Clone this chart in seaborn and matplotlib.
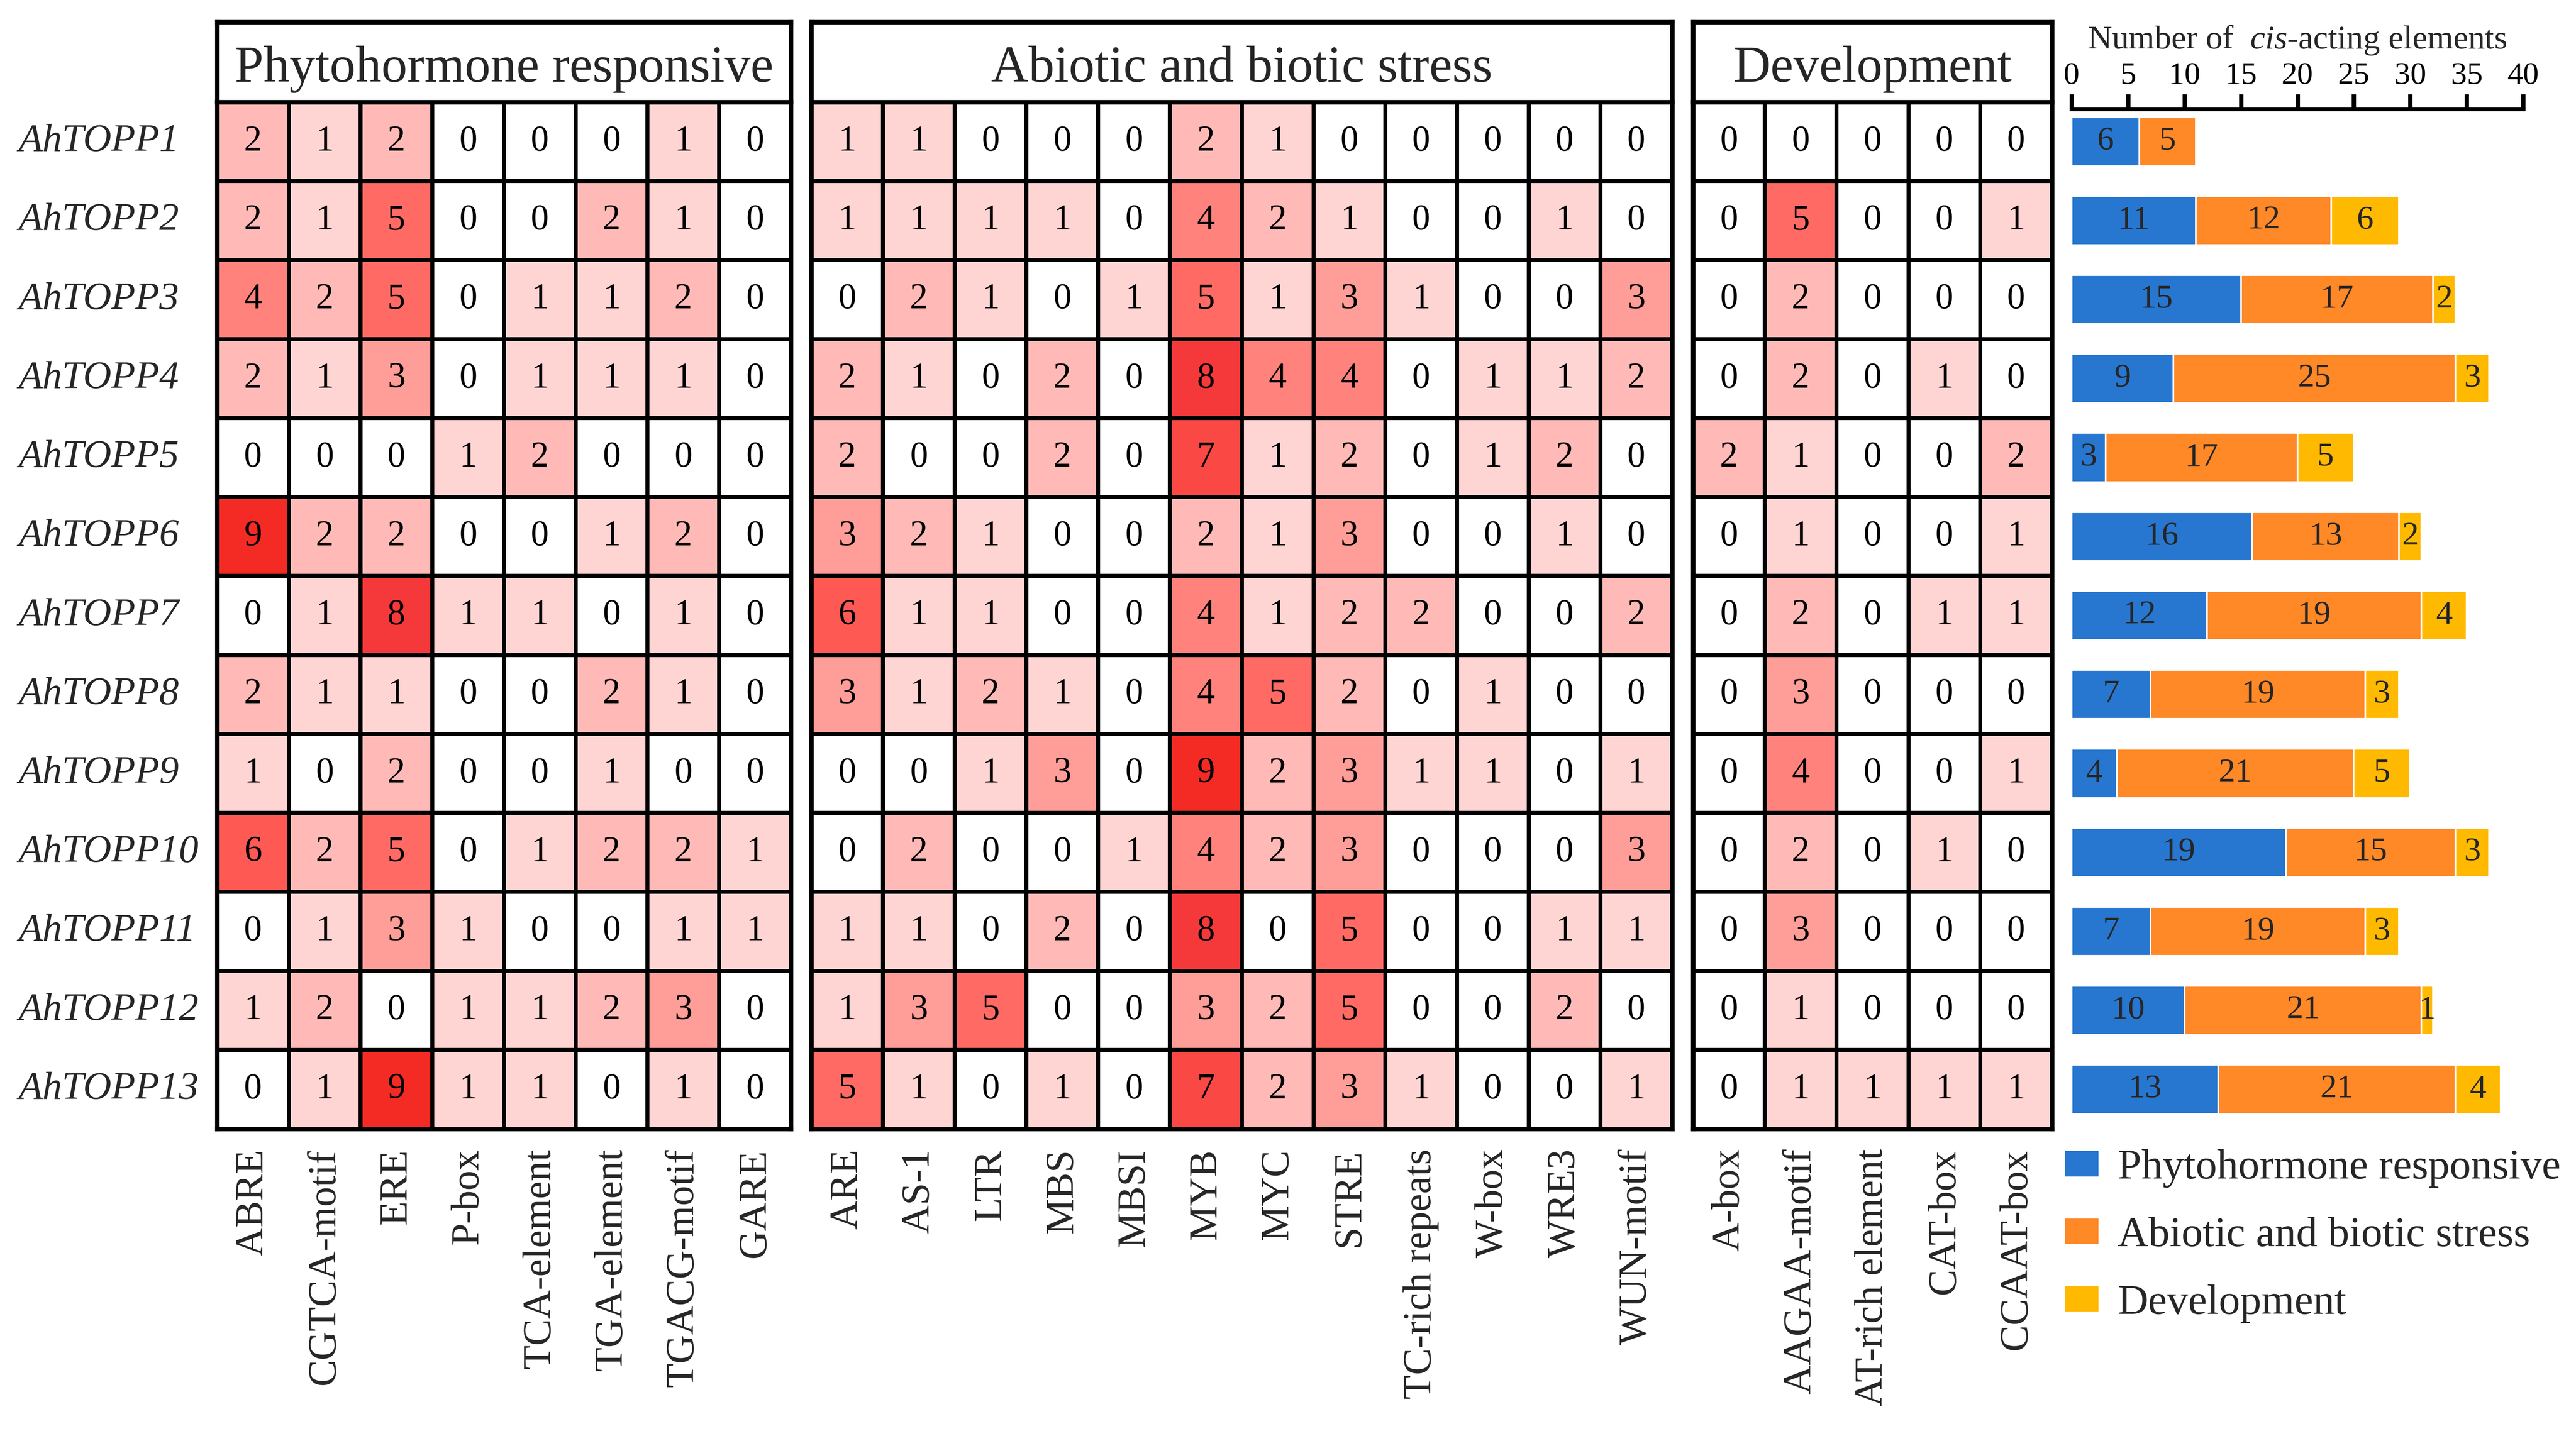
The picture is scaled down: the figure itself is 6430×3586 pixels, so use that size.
import numpy as np
import pandas as pd
import matplotlib
matplotlib.use("Agg")
import matplotlib.pyplot as plt
import seaborn as sns
from matplotlib.colors import LinearSegmentedColormap
from matplotlib.patches import Patch

# --- data ---
genes = ["AhTOPP1", "AhTOPP2", "AhTOPP3", "AhTOPP4", "AhTOPP5", "AhTOPP6", "AhTOPP7",
         "AhTOPP8", "AhTOPP9", "AhTOPP10", "AhTOPP11", "AhTOPP12", "AhTOPP13"]

phyto_cols = ["ABRE", "CGTCA-motif", "ERE", "P-box", "TCA-element", "TGA-element",
              "TGACG-motif", "GARE"]
phyto = [
    [2, 1, 2, 0, 0, 0, 1, 0],
    [2, 1, 5, 0, 0, 2, 1, 0],
    [4, 2, 5, 0, 1, 1, 2, 0],
    [2, 1, 3, 0, 1, 1, 1, 0],
    [0, 0, 0, 1, 2, 0, 0, 0],
    [9, 2, 2, 0, 0, 1, 2, 0],
    [0, 1, 8, 1, 1, 0, 1, 0],
    [2, 1, 1, 0, 0, 2, 1, 0],
    [1, 0, 2, 0, 0, 1, 0, 0],
    [6, 2, 5, 0, 1, 2, 2, 1],
    [0, 1, 3, 1, 0, 0, 1, 1],
    [1, 2, 0, 1, 1, 2, 3, 0],
    [0, 1, 9, 1, 1, 0, 1, 0],
]

stress_cols = ["ARE", "AS-1", "LTR", "MBS", "MBSI", "MYB", "MYC", "STRE",
               "TC-rich repeats", "W-box", "WRE3", "WUN-motif"]
stress = [
    [1, 1, 0, 0, 0, 2, 1, 0, 0, 0, 0, 0],
    [1, 1, 1, 1, 0, 4, 2, 1, 0, 0, 1, 0],
    [0, 2, 1, 0, 1, 5, 1, 3, 1, 0, 0, 3],
    [2, 1, 0, 2, 0, 8, 4, 4, 0, 1, 1, 2],
    [2, 0, 0, 2, 0, 7, 1, 2, 0, 1, 2, 0],
    [3, 2, 1, 0, 0, 2, 1, 3, 0, 0, 1, 0],
    [6, 1, 1, 0, 0, 4, 1, 2, 2, 0, 0, 2],
    [3, 1, 2, 1, 0, 4, 5, 2, 0, 1, 0, 0],
    [0, 0, 1, 3, 0, 9, 2, 3, 1, 1, 0, 1],
    [0, 2, 0, 0, 1, 4, 2, 3, 0, 0, 0, 3],
    [1, 1, 0, 2, 0, 8, 0, 5, 0, 0, 1, 1],
    [1, 3, 5, 0, 0, 3, 2, 5, 0, 0, 2, 0],
    [5, 1, 0, 1, 0, 7, 2, 3, 1, 0, 0, 1],
]

dev_cols = ["A-box", "AAGAA-motif", "AT-rich element", "CAT-box", "CCAAT-box"]
dev = [
    [0, 0, 0, 0, 0],
    [0, 5, 0, 0, 1],
    [0, 2, 0, 0, 0],
    [0, 2, 0, 1, 0],
    [2, 1, 0, 0, 2],
    [0, 1, 0, 0, 1],
    [0, 2, 0, 1, 1],
    [0, 3, 0, 0, 0],
    [0, 4, 0, 0, 1],
    [0, 2, 0, 1, 0],
    [0, 3, 0, 0, 0],
    [0, 1, 0, 0, 0],
    [0, 1, 1, 1, 1],
]

group_names = ["Phytohormone responsive", "Abiotic and biotic stress", "Development"]
group_colors = ["#2777D0", "#FF8827", "#FFB901"]

heat_colors = ["#FFFFFF", "#FFD4D2", "#FFB9B6", "#FF9D98", "#FF827C",
               "#FF6B64", "#FE5A53", "#FA4844", "#F5393A", "#F32B24"]

# --- estilo ---
sns.set_style("white")
plt.rcParams["font.family"] = ["Liberation Serif", "DejaVu Serif"]
plt.rcParams["mathtext.fontset"] = "custom"
plt.rcParams["mathtext.rm"] = "Liberation Serif"
plt.rcParams["mathtext.it"] = "Liberation Serif:italic"

W, H = 6430, 3586
fig = plt.figure(figsize=(W / 300, H / 300), dpi=300)


def box(x0, x1, y0, y1):
    # pixel box -> figure fraction
    return [x0 / W, 1 - y1 / H, (x1 - x0) / W, (y1 - y0) / H]


cmap = LinearSegmentedColormap.from_list("reds9", heat_colors)
LW = 2.3

panels = [
    (phyto, phyto_cols, 542, 1974),
    (stress, stress_cols, 2025, 4174),
    (dev, dev_cols, 4226, 5122),
]
GRID_TOP, GRID_BOT = 255, 2819

for k, (vals, cols, x0, x1) in enumerate(panels):
    df = pd.DataFrame(vals, index=genes, columns=cols)

    # cabecera del grupo
    hax = fig.add_axes(box(x0, x1, 55, GRID_TOP))
    hax.set_xticks([])
    hax.set_yticks([])
    for s in hax.spines.values():
        s.set_visible(True)
        s.set_color("black")
        s.set_linewidth(LW + 0.4)
    hax.text(0.5, 0.41, group_names[k], ha="center", va="center", fontsize=31,
             transform=hax.transAxes)

    ax = fig.add_axes(box(x0, x1, GRID_TOP, GRID_BOT))
    sns.heatmap(df, ax=ax, cmap=cmap, vmin=0, vmax=9, annot=True, fmt="d",
                cbar=False, linewidths=LW, linecolor="black",
                yticklabels=(k == 0),
                annot_kws={"color": "black", "fontsize": 21.5,
                           "family": "Liberation Serif"})
    for s in ax.spines.values():
        s.set_visible(True)
        s.set_color("black")
        s.set_linewidth(LW + 0.4)
    ax.set_xlabel("")
    ax.set_ylabel("")
    ax.tick_params(axis="both", length=0)
    ax.tick_params(axis="x", pad=12, labelsize=24)
    plt.setp(ax.get_xticklabels(), rotation=90, ha="center", va="top")
    if k == 0:
        ax.tick_params(axis="y", pad=119, labelsize=23.5)
        plt.setp(ax.get_yticklabels(), rotation=0, ha="left", fontstyle="italic",
                 family="Liberation Serif")

# --- barras apiladas con los totales ---
tot_phyto = np.array(phyto).sum(axis=1)
tot_stress = np.array(stress).sum(axis=1)
tot_dev = np.array(dev).sum(axis=1)
cum1 = tot_phyto
cum2 = cum1 + tot_stress
cum3 = cum2 + tot_dev

bax = fig.add_axes(box(5171, 6298, 272, GRID_BOT))
for cum, col in [(cum3, group_colors[2]), (cum2, group_colors[1]), (cum1, group_colors[0])]:
    sns.barplot(x=cum, y=genes, color=col, width=0.62, saturation=1,
                errorbar=None, orient="h", ax=bax)

for i in range(len(genes)):
    starts = [0, cum1[i], cum2[i]]
    for v, s0 in zip([tot_phyto[i], tot_stress[i], tot_dev[i]], starts):
        if v > 0:
            bax.text(s0 + v / 2, i, str(v), ha="center", va="center", fontsize=20,
                     family="Liberation Serif")

bax.set_xlim(0, 40)
bax.set_ylim(12.5, -0.414)
bax.set_xticks(range(0, 41, 5))
bax.xaxis.tick_top()
bax.set_yticks([])
bax.set_xlabel("")
bax.set_ylabel("")
for name in ["left", "right", "bottom"]:
    bax.spines[name].set_visible(False)
bax.spines["top"].set_visible(True)
bax.spines["top"].set_color("black")
bax.spines["top"].set_linewidth(LW + 0.3)
bax.tick_params(axis="x", direction="out", length=9, width=LW + 0.3, pad=2,
                labelsize=19, colors="black", top=True, bottom=False)
fig.text(5734 / W, 1 - 121 / H, r"Number of  $cis$-acting elements", ha="center",
         va="baseline", fontsize=20)

# --- leyenda ---
handles = [Patch(facecolor=c, edgecolor="none") for c in group_colors]
fig.legend(handles, group_names, loc="center left", bbox_to_anchor=(5155 / W, 1 - 3087 / H),
           frameon=False, fontsize=25.5, handlelength=0.78, handleheight=0.55,
           handletextpad=0.45, labelspacing=0.68, borderpad=0, borderaxespad=0)

fig.savefig("out.png", dpi=300)
